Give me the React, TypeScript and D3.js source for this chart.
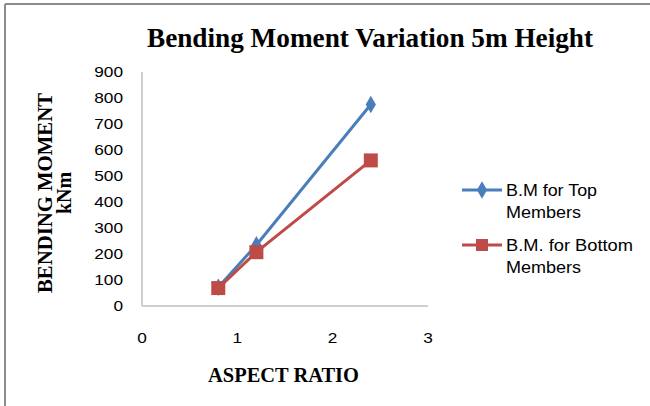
import React from "react";
import * as d3 from "d3";

const aspectRatio = [0.8, 1.2, 2.4];
const topMembers = [72, 235, 775];
const bottomMembers = [69, 207, 560];
const xTicks = [0, 1, 2, 3];
const yTicks = [0, 100, 200, 300, 400, 500, 600, 700, 800, 900];
const seriesNames = ["B.M for Top|Members", "B.M. for Bottom|Members"];

const BLUE = "#4a7ebb";
const RED = "#be4b48";

export default function App() {
  const x = d3.scaleLinear().domain([0, 3]).range([142, 428]);
  const y = d3.scaleLinear().domain([0, 900]).range([306, 72]);
  const line = d3
    .line<number>()
    .x((_, i) => x(aspectRatio[i]))
    .y((d) => y(d));
  const sans = "'Liberation Sans', Arial, sans-serif";
  const serif = "'Liberation Serif', 'Times New Roman', serif";
  const diamond = d3.symbol().type(d3.symbolDiamond).size(90)();
  const digitW = 9.6;
  const legendW: Record<string, number> = {
    "B.M for Top": 91,
    "B.M. for Bottom": 127,
    Members: 75,
  };

  return (
    <svg
      width={650}
      height={406}
      style={{ position: "absolute", left: 0, top: 0, background: "#fff" }}
    >
      <line x1={5} y1={4} x2={650} y2={4} stroke="#8c8c8c" strokeWidth={2} />
      <line x1={5} y1={4} x2={5} y2={406} stroke="#8c8c8c" strokeWidth={2} />

      <text
        x={147}
        y={47}
        fontFamily={serif}
        fontWeight="bold"
        fontSize={26.5}
        textLength={446}
        lengthAdjust="spacingAndGlyphs"
      >
        Bending Moment Variation 5m Height
      </text>

      {/* axes */}
      <line x1={x(0)} y1={y(900)} x2={x(0)} y2={y(0)} stroke="#bfbfbf" strokeWidth={1.5} />
      <line x1={x(0)} y1={y(0)} x2={x(3)} y2={y(0)} stroke="#bfbfbf" strokeWidth={1.5} />

      {yTicks.map((t) => {
        const s = String(t);
        return (
          <text
            key={t}
            x={123 - s.length * digitW}
            y={y(t)}
            dy="0.36em"
            fontFamily={sans}
            fontSize={14.5}
            textLength={s.length * digitW}
            lengthAdjust="spacingAndGlyphs"
            fill="#000"
          >
            {s}
          </text>
        );
      })}
      {xTicks.map((t) => (
        <text
          key={t}
          x={x(t) - digitW / 2}
          y={338}
          dy="0.36em"
          fontFamily={sans}
          fontSize={14.5}
          textLength={digitW}
          lengthAdjust="spacingAndGlyphs"
          fill="#000"
        >
          {t}
        </text>
      ))}

      <g transform="translate(52,193) rotate(-90)">
        <text
          x={-100}
          y={0}
          fontFamily={serif}
          fontWeight="bold"
          fontSize={21}
          textLength={200}
          lengthAdjust="spacingAndGlyphs"
        >
          BENDING MOMENT
        </text>
        <text x={0} y={19} textAnchor="middle" fontFamily={serif} fontWeight="bold" fontSize={20}>
          kNm
        </text>
      </g>
      <text
        x={208}
        y={382}
        fontFamily={serif}
        fontWeight="bold"
        fontSize={20}
        textLength={151}
        lengthAdjust="spacingAndGlyphs"
      >
        ASPECT RATIO
      </text>

      {/* series */}
      <path d={line(topMembers) || ""} fill="none" stroke={BLUE} strokeWidth={3} />
      {topMembers.map((v, i) => (
        <path key={i} d={diamond || ""} transform={`translate(${x(aspectRatio[i])},${y(v)})`} fill={BLUE} />
      ))}
      <path d={line(bottomMembers) || ""} fill="none" stroke={RED} strokeWidth={3} />
      {bottomMembers.map((v, i) => (
        <rect key={i} x={x(aspectRatio[i]) - 7} y={y(v) - 7} width={14} height={14} fill={RED} />
      ))}

      {/* legend */}
      {seriesNames.map((name, i) => {
        const ly = i === 0 ? 190 : 245;
        const color = i === 0 ? BLUE : RED;
        const parts = name.split("|");
        return (
          <g key={name}>
            <line x1={462} y1={ly} x2={502} y2={ly} stroke={color} strokeWidth={3} />
            {i === 0 ? (
              <path d={diamond || ""} transform={`translate(482,${ly})`} fill={color} />
            ) : (
              <rect x={476} y={ly - 6} width={12} height={12} fill={color} />
            )}
            {parts.map((p, j) => (
              <text
                key={j}
                x={506}
                y={ly + j * 22.5}
                dy="0.36em"
                fontFamily={sans}
                fontSize={16}
                textLength={legendW[p]}
                lengthAdjust="spacingAndGlyphs"
              >
                {p}
              </text>
            ))}
          </g>
        );
      })}
    </svg>
  );
}
